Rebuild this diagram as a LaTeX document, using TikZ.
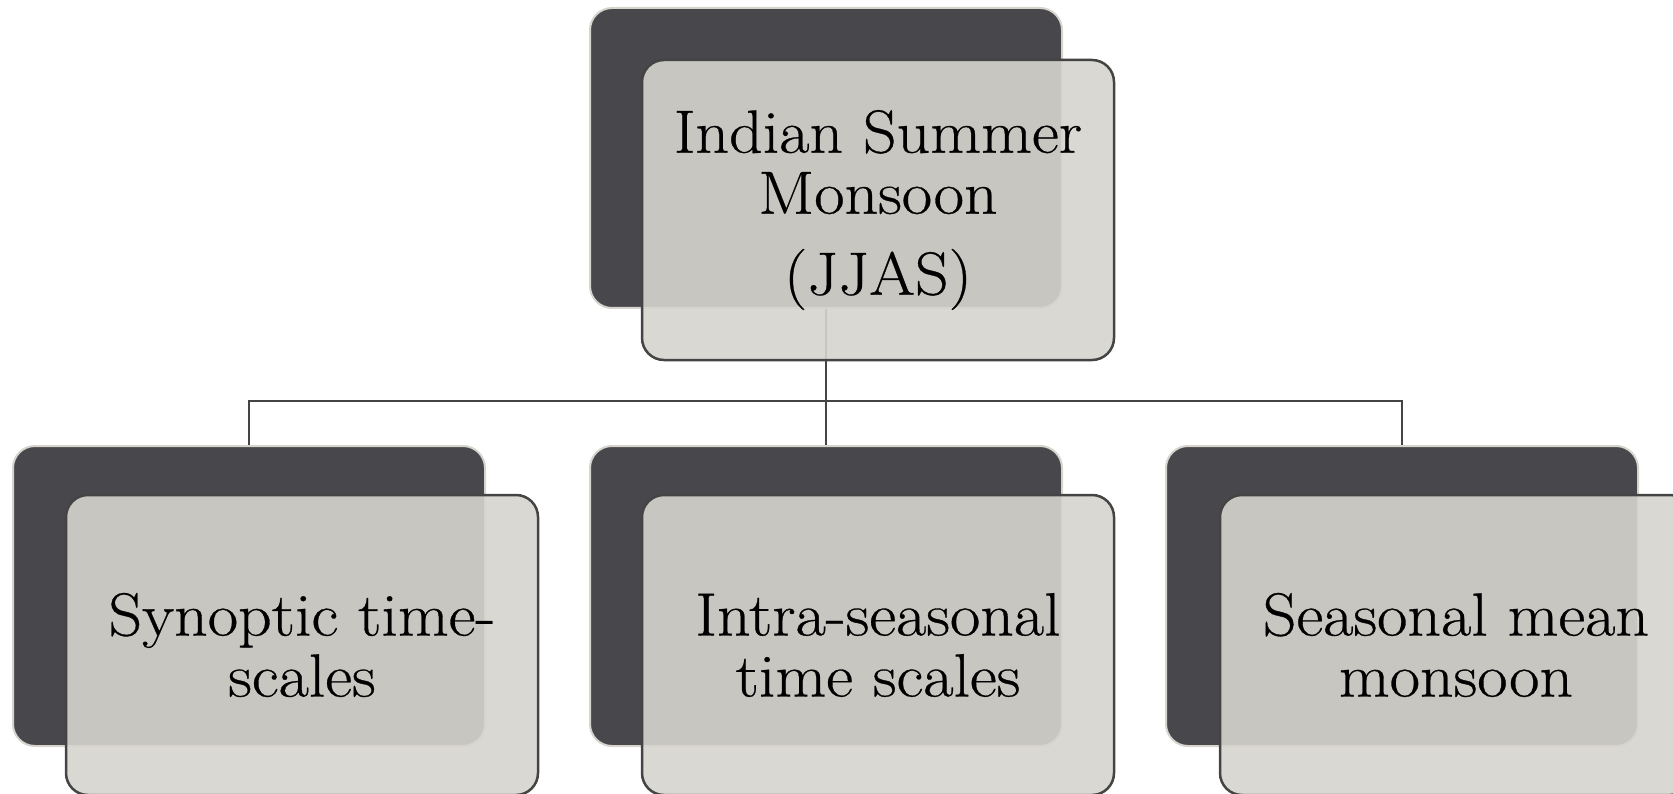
\documentclass[tikz,border=0pt]{standalone}
\usepackage{fontspec}
\setmainfont{Latin Modern Roman}[FakeStretch=1.08,FakeBold=0.5]
\definecolor{backc}{HTML}{48474C}
\definecolor{backedge}{HTML}{D6D4CD}
\definecolor{frontc}{RGB}{214,212,205}
\definecolor{linec}{HTML}{444444}
\tikzset{
  backbox/.style={rectangle, rounded corners=22pt, fill=backc, draw=backedge,
    line width=2pt, minimum width=472pt, minimum height=300pt, inner sep=0pt},
  frontbox/.style={rectangle, rounded corners=22pt, fill=frontc, fill opacity=0.9,
    text opacity=1, draw=linec, line width=2.5pt, minimum width=472pt,
    minimum height=300pt, inner sep=0pt, align=center,
    font=\fontsize{61}{61}\selectfont},
  link/.style={draw=linec, line width=2.5pt}
}
\begin{document}
\begin{tikzpicture}[x=1pt,y=-1pt]
\useasboundingbox (0,0) rectangle (1673,794);
% back boxes
\node[backbox] (d0) at (826,158) {};
\node[backbox] (d1) at (249,596) {};
\node[backbox] (d2) at (826,596) {};
\node[backbox] (d3) at (1402,596) {};
% connectors
\coordinate (j) at (826,401);
\draw[link] (d0.south) -- (j);
\draw[link] (j) -| (d1.north);
\draw[link] (j) -- (d2.north);
\draw[link] (j) -| (d3.north);
% front boxes
\node[frontbox] (l0) at (878,210) {Indian Summer\\Monsoon\\[20pt](JJAS)};
\node[frontbox] (l1) at (302,645) {Synoptic time-\\scales};
\node[frontbox] (l2) at (878,645) {Intra-seasonal\\time scales};
\node[frontbox] (l3) at (1456,645) {Seasonal mean\\monsoon};
\end{tikzpicture}
\end{document}
